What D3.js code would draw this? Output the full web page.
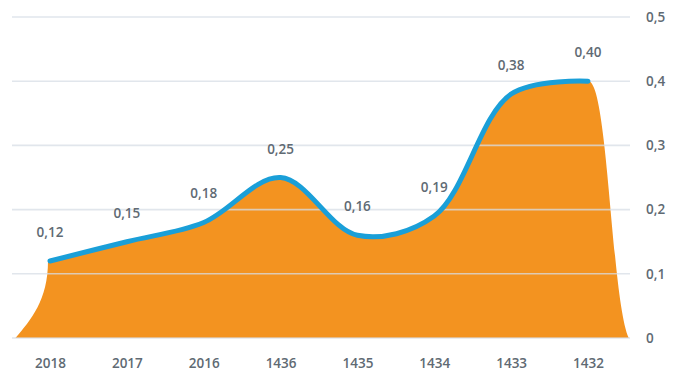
<!DOCTYPE html>
<html>
<head>
<meta charset="utf-8">
<script src="https://cdn.jsdelivr.net/npm/d3@7"></script>
<style>
  html, body { margin: 0; padding: 0; background: #ffffff; }
  svg { display: block; }
  text { font-family: "Open Sans", sans-serif; }
</style>
</head>
<body>
<svg id="chart" width="673" height="380"></svg>
<script>
const categories = ["2018", "2017", "2016", "1436", "1435", "1434", "1433", "1432"];
const values = [0.12, 0.15, 0.18, 0.25, 0.16, 0.19, 0.38, 0.40];
const valueLabels = ["0,12", "0,15", "0,18", "0,25", "0,16", "0,19", "0,38", "0,40"];
const yTicks = [0, 0.1, 0.2, 0.3, 0.4, 0.5];
const yTickLabels = ["0", "0,1", "0,2", "0,3", "0,4", "0,5"];

const svg = d3.select("#chart");
const x = d3.scalePoint().domain(categories).range([50, 588]);
const y = d3.scaleLinear().domain([0, 0.5]).range([338, 17]);
const step = x.step();

const pts = categories.map((c, i) => [x(c), y(values[i])]);
const curve = d3.curveCatmullRom.alpha(0.5);
const lineGen = d3.line().curve(curve);
const linePath = lineGen(pts);

// Area: left rising edge, the curve through the points, right falling edge
const y0 = y(0);
const [fx, fy] = pts[0];
const [lx, ly] = pts[pts.length - 1];
const xl = fx - step * 0.45;
const xr = lx + step * 0.53;
let areaD = `M${xl},${y0} C${xl + step * 0.2},${y0 - 18} ${fx - 2},${y0 - 38} ${fx - 2},${fy}`;
areaD += "L" + linePath.slice(1);
areaD += ` C${lx + step * 0.26},${ly - 3} ${lx + step * 0.3},${y0 - 40} ${xr},${y0} Z`;

svg.append("path")
  .attr("d", areaD)
  .attr("fill", "#f39320");

// gridlines on top of the area
svg.append("g").selectAll("line")
  .data(yTicks)
  .join("line")
  .attr("x1", 12).attr("x2", 630)
  .attr("y1", d => y(d)).attr("y2", d => y(d))
  .attr("stroke", "rgba(215,222,230,0.75)")
  .attr("stroke-width", 1.6);

svg.append("path")
  .attr("d", linePath)
  .attr("fill", "none")
  .attr("stroke", "#1a9fd8")
  .attr("stroke-width", 5)
  .attr("stroke-linecap", "round")
  .attr("stroke-linejoin", "round");

const textColor = "#606a73";

// y axis labels on the right
const yAxis = d3.axisRight(y).tickValues(yTicks)
  .tickFormat((d, i) => yTickLabels[i]).tickSize(0).tickPadding(0);
const gy = svg.append("g").attr("transform", "translate(646,0)").call(yAxis);
gy.select(".domain").remove();
gy.selectAll("text")
  .attr("font-family", "Open Sans, sans-serif")
  .attr("font-size", 13.5)
  .attr("font-weight", 600)
  .attr("fill", textColor);

// x axis labels
const xAxis = d3.axisBottom(x).tickSize(0).tickPadding(0);
const gx = svg.append("g").attr("transform", "translate(0,358)").call(xAxis);
gx.select(".domain").remove();
gx.selectAll("text")
  .attr("font-family", "Open Sans, sans-serif")
  .attr("font-size", 13.5)
  .attr("font-weight", 600)
  .attr("fill", textColor);

// value labels
svg.append("g").selectAll("text")
  .data(categories)
  .join("text")
  .attr("x", d => x(d))
  .attr("y", (d, i) => y(values[i]) - 24)
  .attr("text-anchor", "middle")
  .attr("font-size", 13.5)
  .attr("font-weight", 600)
  .attr("fill", textColor)
  .text((d, i) => valueLabels[i]);
</script>
</body>
</html>
